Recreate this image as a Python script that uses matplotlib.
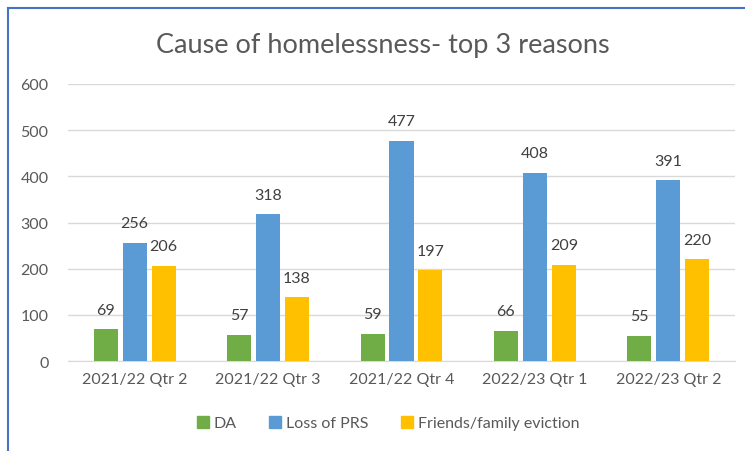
import matplotlib
matplotlib.use("Agg")
import matplotlib.pyplot as plt
import numpy as np
from matplotlib.lines import Line2D

plt.rcParams['font.family'] = ['Lato', 'DejaVu Sans']

categories = ["2021/22 Qtr 2", "2021/22 Qtr 3", "2021/22 Qtr 4", "2022/23 Qtr 1", "2022/23 Qtr 2"]
series_names = ["DA", "Loss of PRS", "Friends/family eviction"]
da = [69, 57, 59, 66, 55]
loss_prs = [256, 318, 477, 408, 391]
friends_family = [206, 138, 197, 209, 220]
colors = ["#70AD47", "#5B9BD5", "#FFC000"]
yticks = [0, 100, 200, 300, 400, 500, 600]

fig = plt.figure(figsize=(7.45, 4.52), dpi=100)
ax = fig.add_axes([68/745, 1 - 362/452, (735-68)/745, (362-85)/452])

x = np.arange(len(categories))
width = 0.18
offsets = [-0.217, 0, 0.217]
for vals, off, c in zip([da, loss_prs, friends_family], offsets, colors):
    bars = ax.bar(x + off, vals, width, color=c, zorder=3)
    for b, v in zip(bars, vals):
        ax.annotate(str(v), (b.get_x() + b.get_width()/2, v), xytext=(0, 14),
                    textcoords='offset points', ha='center', va='center',
                    fontsize=11.5, color='#404040')

ax.set_xlim(-0.5, len(categories) - 0.5)
ax.set_ylim(0, 600)
ax.set_yticks(yticks)
ax.set_yticklabels([str(t) for t in yticks])
ax.set_xticks(x)
ax.set_xticklabels(categories)
ax.tick_params(axis='both', length=0, labelsize=11.5, labelcolor='#595959')
ax.tick_params(axis='y', pad=14)
ax.tick_params(axis='x', pad=8)
ax.grid(axis='y', color='#D9D9D9', linewidth=1, zorder=0)
for s in ['top', 'right', 'left']:
    ax.spines[s].set_visible(False)
ax.spines['bottom'].set_color('#D9D9D9')

fig.text(383/745, 1 - 45/452, "Cause of homelessness- top 3 reasons", ha='center', va='center',
         fontsize=19.5, color='#595959')

handles = [Line2D([0], [0], marker='s', linestyle='none', markersize=8, markerfacecolor=c,
                  markeredgecolor=c) for c in colors]
fig.legend(handles, series_names, loc='center', bbox_to_anchor=(388/745, 1 - 424/452), ncol=3,
           frameon=False, fontsize=11.5, labelcolor='#595959', handletextpad=0.3,
           handlelength=0.8, columnspacing=2.0)

# border lines (top and left)
fig.add_artist(Line2D([8/745, 1], [1 - 9/452, 1 - 9/452], color='#4472C4', linewidth=1.5,
                      transform=fig.transFigure))
fig.add_artist(Line2D([8/745, 8/745], [0, 1 - 9/452], color='#4472C4', linewidth=1.5,
                      transform=fig.transFigure))

fig.savefig("out.png", dpi=100)
